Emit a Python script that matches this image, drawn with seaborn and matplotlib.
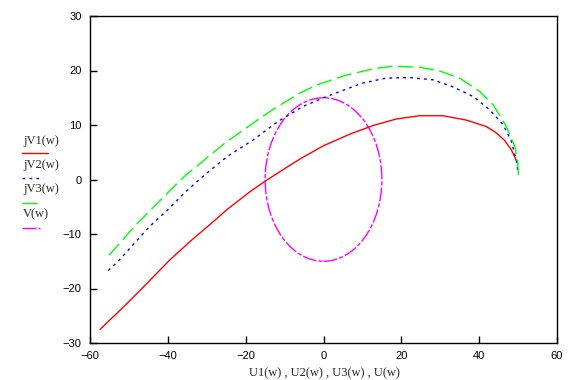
import matplotlib
matplotlib.use("Agg")
import matplotlib.pyplot as plt
from matplotlib.lines import Line2D
from matplotlib.patches import Ellipse
import pandas as pd
import seaborn as sns

# curve 1 (red): U1(w), jV1(w)
u1 = [-57.4, -55.1, -53.0, -50.0, -45.0, -39.7, -33.7, -29.4, -24.6, -19.0, -15.0, -6.2,
      0.0, 6.7, 12.7, 18.7, 24.7, 30.7, 36.7, 41.9, 44.5, 46.5, 48.3, 49.9]
v1 = [-27.5, -25.9, -24.5, -22.4, -18.8, -14.9, -11.0, -8.4, -5.4, -2.3, -0.3, 3.7,
      6.2, 8.3, 9.9, 11.1, 11.7, 11.7, 10.9, 9.7, 8.5, 7.2, 5.4, 3.0]

# curve 2 (blue): U2(w), jV2(w)
u2 = [-55.3, -52.5, -44.8, -40.1, -35.8, -31.1, -24.8, -18.2, -11.8, -5.3, 0.7, 6.3,
      10.1, 16.1, 22.1, 28.1, 33.3, 38.5, 42.7, 46.2, 48.2, 49.6, 50.0]
v2 = [-16.7, -14.8, -8.7, -5.6, -2.5, 0.5, 4.2, 7.2, 10.6, 13.4, 15.2, 16.7,
      17.7, 18.6, 18.7, 18.3, 17.0, 15.2, 12.8, 10.0, 7.2, 3.3, 1.0]

# curve 3 (green): U3(w), jV3(w)
u3 = [-55.1, -48.7, -44.4, -39.7, -35.4, -31.1, -25.5, -18.2, -13.1, -6.2, -1.9, 5.6,
      12.7, 17.8, 24.7, 29.9, 35.0, 40.2, 43.6, 47.0, 49.2, 49.9, 50.2]
v3 = [-13.9, -8.7, -5.6, -2.2, 0.8, 3.3, 6.6, 10.3, 12.8, 15.8, 17.3, 19.1,
      20.3, 20.8, 20.6, 19.9, 18.6, 16.1, 13.7, 9.7, 6.0, 3.0, -0.1]

# curve 4 (magenta): U(w), V(w) -> circle
circle_center = (0.0, 0.0)
circle_radius = 15.0

x_ticks = [-60, -40, -20, 0, 20, 40, 60]
y_ticks = [-30, -20, -10, 0, 10, 20, 30]
legend_labels = ["jV1(w)", "jV2(w)", "jV3(w)", "V(w)"]
x_label = "U1(w) , U2(w) , U3(w) , U(w)"

sns.set_style("ticks")
plt.rcParams["font.family"] = ["Liberation Sans", "DejaVu Sans"]
serif = ["Liberation Serif", "DejaVu Serif"]

fig = plt.figure(figsize=(5.79, 3.80), dpi=100)
ax = fig.add_axes([90 / 579, 1 - 343 / 380, 467 / 579, 327 / 380])

styles = [
    dict(color="#ff0000", linestyle="-"),
    dict(color="#0000ff", linestyle=(0, (2, 3))),
    dict(color="#00ff00", linestyle=(0, (11, 4))),
    dict(color="#ff00ff", linestyle=(0, (10, 1.5, 3, 1.5))),
]

curves = [(u1, v1), (u2, v2), (u3, v3)]
for (u, v), st in zip(curves, styles[:3]):
    df = pd.DataFrame({"u": u, "v": v})
    sns.lineplot(data=df, x="u", y="v", sort=False, estimator=None, ax=ax,
                 lw=1.0, **st)

ax.add_patch(Ellipse(circle_center, 2 * circle_radius, 2 * circle_radius,
                     fill=False, lw=1.0, **styles[3]))

ax.set_xlim(x_ticks[0], x_ticks[-1])
ax.set_ylim(y_ticks[0], y_ticks[-1])
ax.set_xticks(x_ticks)
ax.set_yticks(y_ticks)
ax.tick_params(direction="in", length=5, width=1.0, labelsize=8, colors="black",
               top=False, right=False, pad=6)
for s in ax.spines.values():
    s.set_visible(True)
    s.set_color("black")
    s.set_linewidth(1.0)
ax.set_xlabel("")
ax.set_ylabel("")

fig.text(324 / 579, 1 - 373 / 380, x_label, ha="center", va="center",
         fontsize=9, family=serif)

# legend at the left, text above sample line
text_y = [141, 165, 189, 214]
line_y = [153, 178, 203, 228]
line_end = [48, 43, 40, 40]
for lab, ty, ly, le, st in zip(legend_labels, text_y, line_y, line_end, styles):
    fig.text(23 / 579, 1 - ty / 380, lab, ha="left", va="center", fontsize=9,
             family=serif)
    fig.add_artist(Line2D([22 / 579, le / 579], [1 - ly / 380, 1 - ly / 380],
                          transform=fig.transFigure, lw=1.0, **st))

fig.savefig("out.png", dpi=100)
